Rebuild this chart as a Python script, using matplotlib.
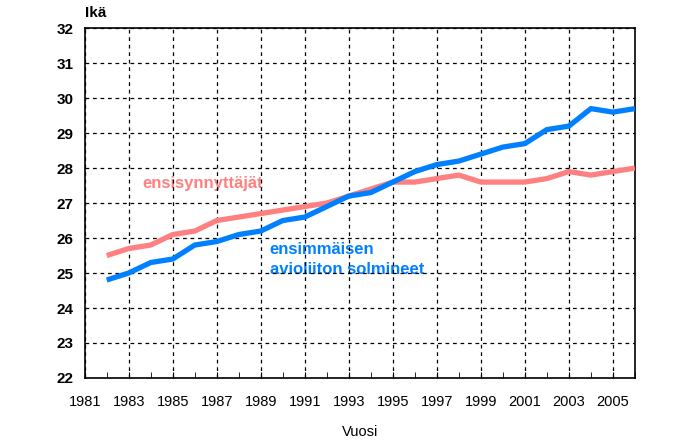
import matplotlib
matplotlib.use('Agg')
import matplotlib.pyplot as plt
from matplotlib.ticker import MultipleLocator

# data
years = list(range(1982, 2007))
ensisynnyttajat = [25.5, 25.7, 25.8, 26.1, 26.2, 26.5, 26.6, 26.7, 26.8, 26.9,
                   27.0, 27.2, 27.4, 27.6, 27.6, 27.7, 27.8, 27.6, 27.6, 27.6,
                   27.7, 27.9, 27.8, 27.9, 28.0]
avioliitto = [24.8, 25.0, 25.3, 25.4, 25.8, 25.9, 26.1, 26.2, 26.5, 26.6,
              26.9, 27.2, 27.3, 27.6, 27.9, 28.1, 28.2, 28.4, 28.6, 28.7,
              29.1, 29.2, 29.7, 29.6, 29.7]
xtick_years = list(range(1981, 2006, 2))

pink = '#FF8080'
blue = '#0080FF'

plt.rcParams['font.family'] = ['Liberation Sans', 'DejaVu Sans']

fig = plt.figure(figsize=(7, 4.4), dpi=100)
ax = fig.add_axes([0.121, 0.141, 0.786, 0.795])

ax.plot(years, ensisynnyttajat, color=pink, lw=3.8, solid_capstyle='butt', zorder=3)
ax.plot(years, avioliitto, color=blue, lw=3.8, solid_capstyle='butt', zorder=4)

ax.set_xlim(1981, 2006)
ax.set_ylim(22, 32)
ax.set_xticks(xtick_years)
ax.xaxis.set_minor_locator(MultipleLocator(1))
ax.yaxis.set_major_locator(MultipleLocator(1))

ax.grid(True, which='major', color='black', linestyle=(0, (3, 3)), lw=0.9)
ax.tick_params(axis='x', which='both', direction='in', length=4, labelsize=10.5, pad=12)
ax.tick_params(axis='y', which='major', direction='in', length=0, labelsize=11, pad=8)
for lab in ax.get_yticklabels():
    lab.set_fontweight('bold')
for sp in ax.spines.values():
    sp.set_linewidth(1.2)

ax.set_xlabel('Vuosi', fontsize=10.5, labelpad=12)
fig.text(0.121, 0.955, 'Ikä', fontsize=11, fontweight='bold', ha='left', va='bottom')

# labels sit under the dashed grid, as in the reference
ax.text(1983.6, 27.57, 'ensisynnyttäjät', color=pink, fontsize=12,
        fontweight='bold', va='center', zorder=1)
ax.text(1989.4, 25.67, 'ensimmäisen', color=blue, fontsize=12,
        fontweight='bold', va='center', zorder=1)
ax.text(1989.4, 25.1, 'avioliiton solmineet', color=blue, fontsize=12,
        fontweight='bold', va='center', zorder=1)

fig.savefig('out.png', dpi=100)
